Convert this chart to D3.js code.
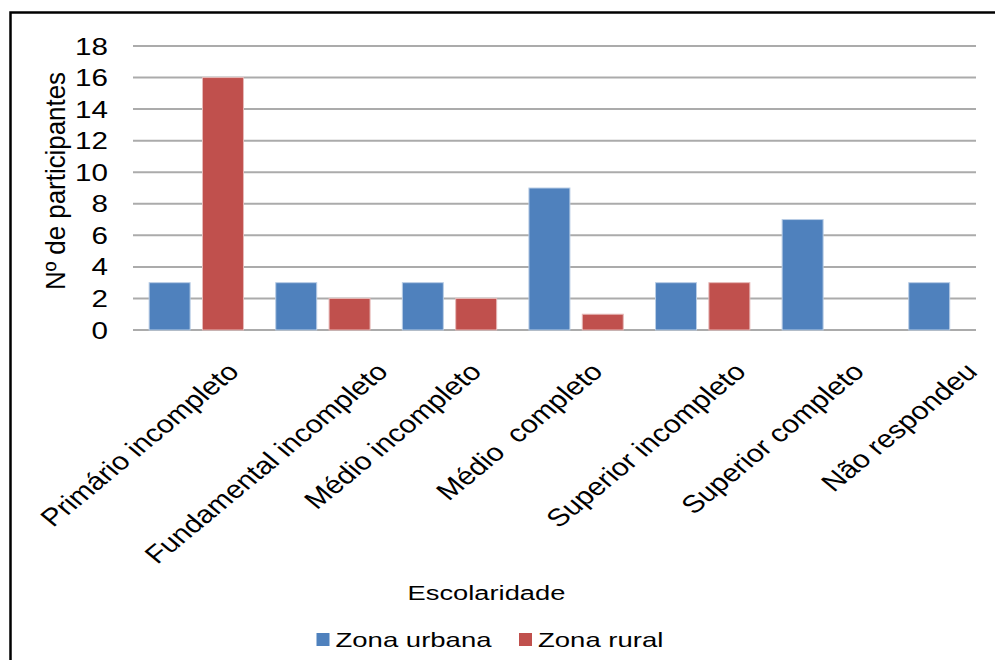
<!DOCTYPE html>
<html>
<head>
<meta charset="utf-8">
<script src="https://cdn.jsdelivr.net/npm/d3@7"></script>
<style>
  html, body { margin: 0; padding: 0; background: #fff; }
  svg { display: block; font-family: "Liberation Sans", Arial, sans-serif; }
</style>
</head>
<body>
<svg id="chart" width="995" height="660"></svg>
<script>
// Escolaridade dos participantes por zona
const categories = [
  "Primário incompleto",
  "Fundamental incompleto",
  "Médio incompleto",
  "Médio  completo",
  "Superior incompleto",
  "Superior completo",
  "Não respondeu"
];
const seriesNames = ["Zona urbana", "Zona rural"];
const urbana = [3, 3, 3, 9, 3, 7, 3];
const rural = [16, 2, 2, 1, 3, 0, 0];
const yTicks = [0, 2, 4, 6, 8, 10, 12, 14, 16, 18];
const colors = ["#4F81BD", "#C0504D"];
const strokeColors = ["#B9CDE5", "#E6B9B8"];

const svg = d3.select("#chart");

// outer frame
svg.append("rect")
  .attr("x", 10.5).attr("y", 12.5)
  .attr("width", 1000).attr("height", 700)
  .attr("fill", "none").attr("stroke", "#000").attr("stroke-width", 2.5);

const plotLeft = 133, plotRight = 976, plotTop = 46, plotBottom = 330;

const x = d3.scaleBand().domain(categories).range([plotLeft, plotLeft + 7 * 126.6]);
const xs = d3.scaleBand().domain(seriesNames).range([0, x.bandwidth()])
  .paddingInner(0.213).paddingOuter(0.293);
const y = d3.scaleLinear().domain([0, 18]).range([plotBottom, plotTop]);

// gridlines
svg.append("g").selectAll("line").data(yTicks).join("line")
  .attr("x1", plotLeft).attr("x2", plotRight)
  .attr("y1", d => y(d)).attr("y2", d => y(d))
  .attr("stroke", "#ABABAB").attr("stroke-width", 2);

// y axis tick labels
const yAxis = d3.axisLeft(y).tickValues(yTicks).tickSize(0).tickPadding(0);
const gy = svg.append("g").attr("transform", "translate(108,0)").call(yAxis);
gy.select(".domain").remove();
gy.selectAll("text")
  .attr("font-size", 23.3)
  .attr("font-family", "'Liberation Sans', Arial, sans-serif")
  .attr("fill", "#000")
  .attr("x", null).attr("dy", null)
  .attr("text-anchor", "end")
  .attr("transform", d => `translate(0,${y(d) + 8.5}) scale(1.27,1)`)
  .attr("y", d => -y(d));
gy.selectAll(".tick").attr("transform", null);
gy.selectAll(".tick text").attr("y", 0);

// bars
const rows = categories.map((c, i) => ({ cat: c, vals: [urbana[i], rural[i]] }));
const groups = svg.append("g").selectAll("g").data(rows).join("g")
  .attr("transform", d => `translate(${x(d.cat)},0)`);
groups.selectAll("rect")
  .data(d => d.vals.map((v, k) => ({ name: seriesNames[k], v, k })).filter(e => e.v > 0))
  .join("rect")
  .attr("x", d => xs(d.name) + 0.5)
  .attr("width", xs.bandwidth() - 1)
  .attr("y", d => y(d.v))
  .attr("height", d => y(0) - y(d.v))
  .attr("fill", d => colors[d.k])
  .attr("stroke", d => strokeColors[d.k])
  .attr("stroke-width", 1);

// category labels, rotated
const sxLab = 1.21;
svg.append("g").selectAll("text").data(categories).join("text")
  .attr("font-size", 24.8)
  .attr("fill", "#000")
  .attr("text-anchor", "middle")
  .attr("dy", "0.35em")
  .style("white-space", "pre")
  .text(d => d)
  .attr("transform", function (d) {
    const L = this.getComputedTextLength();
    const cx = x(d) + x.bandwidth() / 2 - 57;
    const cy = 367 + 0.7071 * L / 2;
    return `translate(${cx},${cy}) scale(${sxLab},1) rotate(-45)`;
  });

// axis titles
svg.append("text")
  .attr("font-size", 21).attr("fill", "#000")
  .attr("text-anchor", "middle")
  .attr("transform", "translate(486.5,600) scale(1.3,1)")
  .text("Escolaridade");

svg.append("text")
  .attr("font-size", 25.9).attr("fill", "#000")
  .attr("text-anchor", "middle")
  .attr("transform", "translate(65,181) scale(1.08,1) rotate(-90)")
  .text("Nº de participantes");

// legend
const legendX = [316.5, 519];
const lg = svg.append("g").selectAll("g").data(seriesNames).join("g")
  .attr("transform", (d, i) => `translate(${legendX[i]},0)`);
lg.append("rect")
  .attr("x", 0).attr("y", 633).attr("width", 13).attr("height", 13)
  .attr("fill", (d, i) => colors[i]);
lg.append("text")
  .attr("font-size", 21).attr("fill", "#000")
  .attr("transform", "translate(19,647) scale(1.31,1)")
  .text(d => d);
</script>
</body>
</html>
